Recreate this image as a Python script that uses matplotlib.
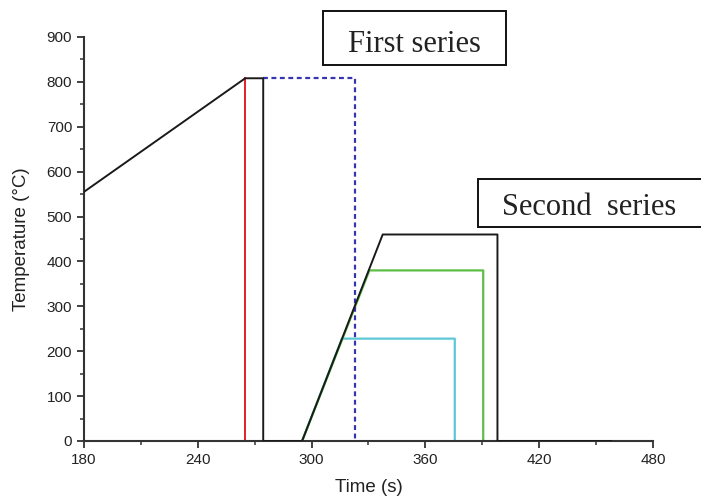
import matplotlib.pyplot as plt
from matplotlib.patches import Rectangle
from matplotlib.ticker import MultipleLocator

plt.rcParams['font.family'] = ['Liberation Sans', 'DejaVu Sans']

# heat treatment cycles: time (s) / temperature (C)
t_black = [180, 265, 274.5, 274.5, 295, 337.5, 398, 398, 458]
T_black = [555, 808, 808, 0, 0, 460, 460, 0, 0]
t_red = [265, 265]
T_red = [808, 0]
t_blue = [274.5, 323, 323]
T_blue = [808, 808, 0]
t_green = [295, 330.5, 390.5, 390.5]
T_green = [0, 380, 380, 0]
t_cyan = [295, 316, 375.5, 375.5]
T_cyan = [0, 228, 228, 0]

xticks = [180, 240, 300, 360, 420, 480]
yticks = [0, 100, 200, 300, 400, 500, 600, 700, 800, 900]

fig = plt.figure(figsize=(7.01, 4.97), dpi=100)
ax = fig.add_axes([0.1198, 0.1127, 0.8117, 0.8129])

ax.plot(t_cyan, T_cyan, color='#5cc8d6', lw=1.6, zorder=2)
ax.plot(t_green, T_green, color='#5cbf45', lw=1.6, zorder=2)
ax.plot(t_red, T_red, color='#e0202a', lw=1.4, zorder=2)
ax.plot(t_blue, T_blue, color='#3535b0', lw=1.6, ls=(0, (2.2, 1.6)), zorder=2)
ax.plot(t_black, T_black, color='#1a1a1a', lw=1.4, zorder=3)

ax.set_xlim(180, 480)
ax.set_ylim(0, 900)
ax.set_xticks(xticks)
ax.set_yticks(yticks)
ax.xaxis.set_minor_locator(MultipleLocator(30))
ax.yaxis.set_minor_locator(MultipleLocator(50))
for s in ['top', 'right']:
    ax.spines[s].set_visible(False)
for s in ['left', 'bottom']:
    ax.spines[s].set_linewidth(1.5)
    ax.spines[s].set_color('#333333')
ax.tick_params(which='major', direction='out', length=5, width=1.3,
               color='#333333', labelsize=11, labelcolor='#222222')
ax.tick_params(which='minor', direction='out', length=3, width=1.1,
               color='#333333')
ax.set_xlabel('Time (s)', fontsize=13.5, color='#222222', labelpad=9)
ax.set_ylabel('Temperature (\u00b0C)', fontsize=13.5, color='#222222', labelpad=12)

# boxed series captions
fig.patches.append(Rectangle((0.4608, 0.8692), 0.2611, 0.1087, transform=fig.transFigure,
                             fill=True, facecolor='white', edgecolor='#111111', lw=1.4, zorder=5))
fig.text(0.5906, 0.896, 'First series', family='Liberation Serif', fontsize=22,
         ha='center', va='baseline', color='#222222', zorder=6)
fig.patches.append(Rectangle((0.6823, 0.5440), 0.4, 0.0956, transform=fig.transFigure,
                             fill=True, facecolor='white', edgecolor='#111111', lw=1.4, zorder=5))
fig.text(0.7157, 0.5674, 'Second  series', family='Liberation Serif', fontsize=22,
         ha='left', va='baseline', color='#222222', zorder=6)

fig.savefig('out.png', dpi=100)
